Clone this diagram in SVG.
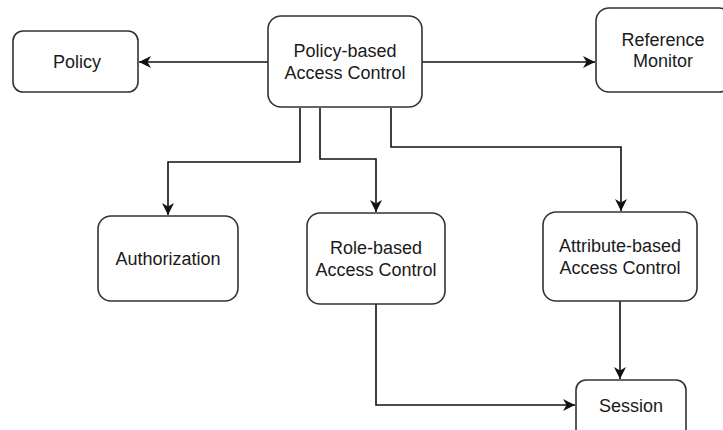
<svg xmlns="http://www.w3.org/2000/svg" width="723" height="430" viewBox="0 0 723 430">
<style>
.box{fill:#fff;stroke:#333;stroke-width:1.6}
.t{font-family:"Liberation Sans",Arial,sans-serif;font-size:18px;fill:#1a1a1a;text-anchor:middle;dominant-baseline:central}
.c{fill:none;stroke:#111;stroke-width:1.6}
</style>
<defs>
<marker id="arr" markerUnits="userSpaceOnUse" markerWidth="14" markerHeight="14" refX="12" refY="7" orient="auto">
<path d="M0,1 L12,7 L0,13 L3.5,7 z" fill="#111"/>
</marker>
</defs>
<rect width="723" height="430" fill="#fff"/>
<g id="connectors">
<path class="c" d="M268,62 H139" marker-end="url(#arr)"/>
<path class="c" d="M422,62 H595" marker-end="url(#arr)"/>
<path class="c" d="M300,108 V162 H168 V215" marker-end="url(#arr)"/>
<path class="c" d="M320,108 V159 H376 V212" marker-end="url(#arr)"/>
<path class="c" d="M391,108 V147 H621 V211" marker-end="url(#arr)"/>
<path class="c" d="M620,301 V379" marker-end="url(#arr)"/>
<path class="c" d="M376,304 V405 H575" marker-end="url(#arr)"/>
</g>
<g id="policy">
<rect class="box" x="13" y="31" width="125" height="61" rx="10"/>
<text class="t" x="77" y="62">Policy</text>
</g>
<g id="pbac">
<rect class="box" x="268" y="16" width="154" height="91" rx="13"/>
<text class="t" x="345" y="51">Policy-based</text>
<text class="t" x="345" y="73">Access Control</text>
</g>
<g id="refmon">
<rect class="box" x="596" y="8" width="136" height="84" rx="13"/>
<text class="t" x="663" y="40">Reference</text>
<text class="t" x="663" y="61">Monitor</text>
</g>
<g id="authorization">
<rect class="box" x="98" y="216" width="140" height="85" rx="13"/>
<text class="t" x="168" y="259">Authorization</text>
</g>
<g id="rbac">
<rect class="box" x="307" y="213" width="138" height="91" rx="13"/>
<text class="t" x="376" y="248">Role-based</text>
<text class="t" x="376" y="270">Access Control</text>
</g>
<g id="abac">
<rect class="box" x="543" y="212" width="154" height="89" rx="13"/>
<text class="t" x="620" y="246">Attribute-based</text>
<text class="t" x="620" y="268">Access Control</text>
</g>
<g id="session">
<rect class="box" x="576" y="380" width="110" height="60" rx="10"/>
<text class="t" x="631" y="406">Session</text>
</g>
</svg>
